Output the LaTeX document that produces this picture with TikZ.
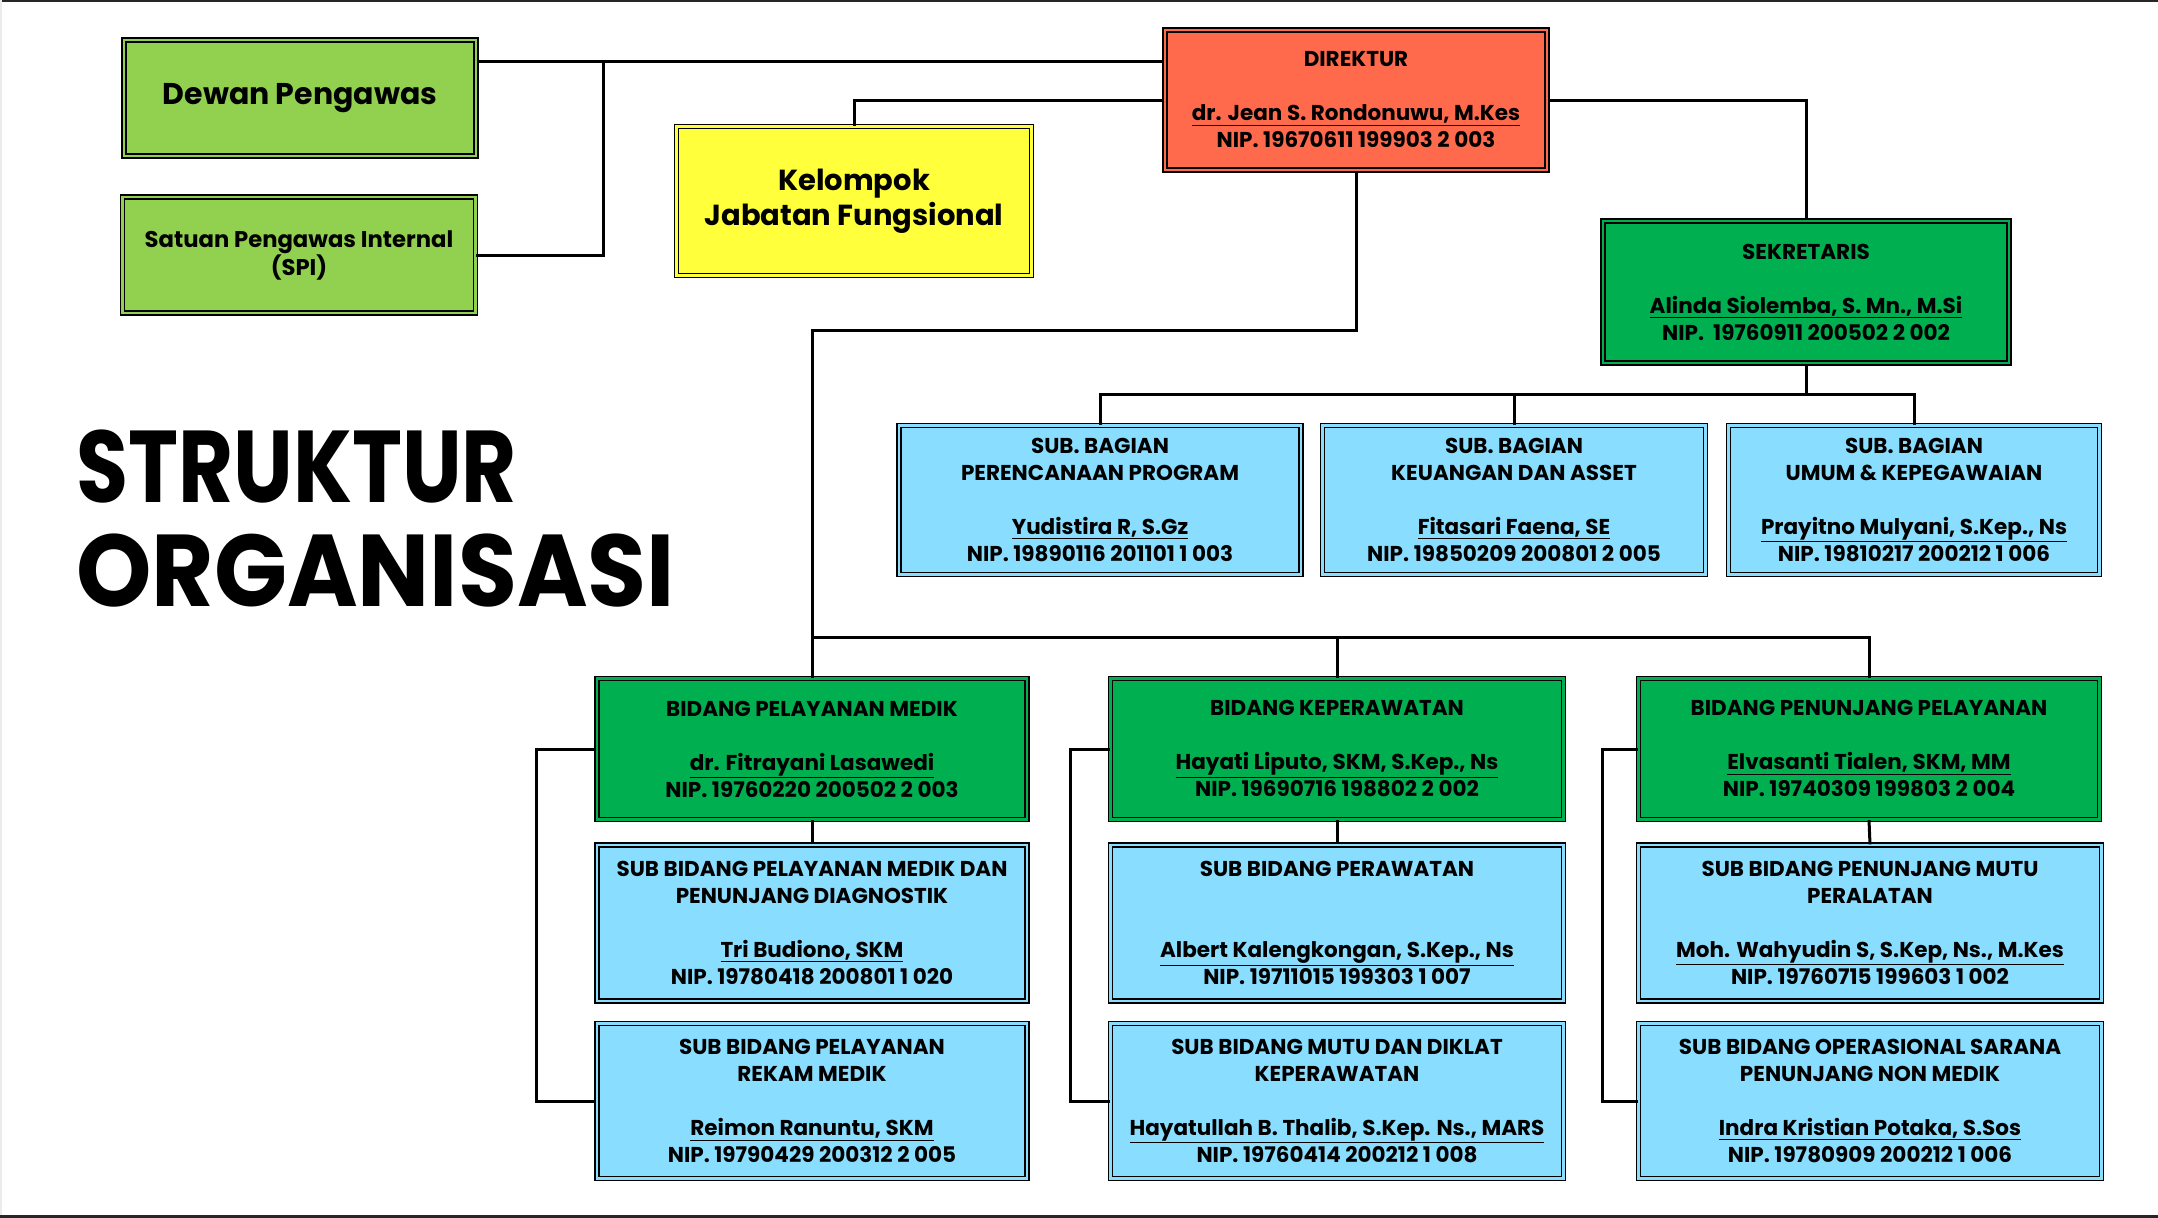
\documentclass[tikz,border=0pt]{standalone}
\usepackage{fontspec}
\setmainfont{Poppins}
\usetikzlibrary{positioning}

\definecolor{lgreen}{HTML}{92D050}
\definecolor{dgreen}{HTML}{00B050}
\definecolor{yellowbox}{HTML}{FFFF3B}
\definecolor{redbox}{HTML}{FF6A4D}
\definecolor{bluebox}{HTML}{89DEFF}

\newcommand{\boxfont}{\bfseries\fontsize{21.5}{27}\selectfont}
\newcommand{\person}[3]{#1\\~\\\underline{#2}\\#3}

\tikzset{
  unit/.style={draw=black, line width=1.4pt, double=#1, double distance=2.6pt,
    fill=#1, align=center, inner sep=0pt, font=\boxfont},
  link/.style={line width=3pt},
  headline/.style={anchor=base west, inner sep=0pt, font=\bfseries\fontsize{102}{110}\selectfont},
}

\begin{document}
\begin{tikzpicture}[x=1pt, y=-1pt]
  \useasboundingbox (0,0) rectangle (2158,1218);
  \fill[black!85] (0,0) rectangle (2158,2);
  \fill[black!85] (0,1215) rectangle (2158,1218);
  \fill[black!8] (0,0) rectangle (2,1215);

  % title
  \node (t1) [headline] at (76,502) {\scalebox{0.83}[1]{STRUKTUR}};
  \node (t2) [headline] at (76,606) {\scalebox{0.94}[1]{ORGANISASI}};

  % top level
  \node (dewan) [unit=lgreen, minimum width=352, minimum height=116, font=\bfseries\fontsize{30}{34}\selectfont] at (300,98) {Dewan Pengawas};
  \node (spi) [unit=lgreen, minimum width=353, minimum height=116, font=\bfseries\fontsize{22.7}{28}\selectfont] at (299,255) {Satuan Pengawas Internal\\(SPI)};
  \node (kelompok) [unit=yellowbox, minimum width=355, minimum height=149, font=\bfseries\fontsize{29}{35}\selectfont] at (854,201) {Kelompok\\Jabatan Fungsional};
  \node (direktur) [unit=redbox, minimum width=382, minimum height=140] at (1356,100)
    {\person{DIREKTUR}{dr. Jean S. Rondonuwu, M.Kes}{NIP. 19670611 199903 2 003}};
  \node (sekretaris) [unit=dgreen, minimum width=406, minimum height=142] at (1806,292)
    {\person{SEKRETARIS}{Alinda Siolemba, S. Mn., M.Si}{NIP.\ \ 19760911 200502 2 002}};

  % sub bagian
  \node (sb1) [unit=bluebox, minimum width=402, minimum height=149] at (1100,500)
    {SUB. BAGIAN\\\person{PERENCANAAN PROGRAM}{Yudistira R, S.Gz}{NIP. 19890116 201101 1 003}};
  \node (sb2) [unit=bluebox, minimum width=383, minimum height=149] at (1514,500)
    {SUB. BAGIAN\\\person{KEUANGAN DAN ASSET}{Fitasari Faena, SE}{NIP. 19850209 200801 2 005}};
  \node (sb3) [unit=bluebox, minimum width=371, minimum height=149] at (1914,500)
    {SUB. BAGIAN\\\person{UMUM \& KEPEGAWAIAN}{Prayitno Mulyani, S.Kep., Ns}{NIP. 19810217 200212 1 006}};

  % bidang
  \node (b1) [unit=dgreen, minimum width=430, minimum height=141] at (812,749)
    {\person{BIDANG PELAYANAN MEDIK}{dr. Fitrayani Lasawedi}{NIP. 19760220 200502 2 003}};
  \node (b2) [unit=dgreen, minimum width=453, minimum height=141] at (1337,749)
    {\person{BIDANG KEPERAWATAN}{Hayati Liputo, SKM, S.Kep., Ns}{NIP. 19690716 198802 2 002}};
  \node (b3) [unit=dgreen, minimum width=461, minimum height=141] at (1869,749)
    {\person{BIDANG PENUNJANG PELAYANAN}{Elvasanti Tialen, SKM, MM}{NIP. 19740309 199803 2 004}};

  % sub bidang
  \node (s11) [unit=bluebox, minimum width=430, minimum height=156] at (812,923)
    {SUB BIDANG PELAYANAN MEDIK DAN\\\person{PENUNJANG DIAGNOSTIK}{Tri Budiono, SKM}{NIP. 19780418 200801 1 020}};
  \node (s12) [unit=bluebox, minimum width=430, minimum height=155] at (812,1101)
    {SUB BIDANG PELAYANAN\\\person{REKAM MEDIK}{Reimon Ranuntu, SKM}{NIP. 19790429 200312 2 005}};
  \node (s21) [unit=bluebox, minimum width=453, minimum height=156] at (1337,923)
    {SUB BIDANG PERAWATAN\\\person{~}{Albert Kalengkongan, S.Kep., Ns}{NIP. 19711015 199303 1 007}};
  \node (s22) [unit=bluebox, minimum width=453, minimum height=155] at (1337,1101)
    {SUB BIDANG MUTU DAN DIKLAT\\\person{KEPERAWATAN}{Hayatullah B. Thalib, S.Kep. Ns., MARS}{NIP. 19760414 200212 1 008}};
  \node (s31) [unit=bluebox, minimum width=463, minimum height=156] at (1870,923)
    {SUB BIDANG PENUNJANG MUTU\\\person{PERALATAN}{Moh. Wahyudin S, S.Kep, Ns., M.Kes}{NIP. 19760715 199603 1 002}};
  \node (s32) [unit=bluebox, minimum width=463, minimum height=155] at (1870,1101)
    {SUB BIDANG OPERASIONAL SARANA\\\person{PENUNJANG NON MEDIK}{Indra Kristian Potaka, S.Sos}{NIP. 19780909 200212 1 006}};

  % connectors
  \coordinate (jct) at (603,61);
  \coordinate (kink) at (1356,330);
  \coordinate (bus) at (812,637);
  \coordinate (sbus) at (1100,394);

  \draw[link] (dewan.east |- jct) -- (direktur.west |- jct);
  \draw[link] (spi.east) -| (jct);
  \draw[link] (direktur.west) -| (kelompok.north);
  \draw[link] (direktur.east) -| (sekretaris.north);

  \draw[link] (direktur.south) -- (kink) -| (b1.north);
  \draw[link] (bus) -| (b3.north);
  \draw[link] (b2.north |- bus) -- (b2.north);

  \draw[link] (sekretaris.south) -- (sekretaris.south |- sbus);
  \draw[link] (sb1.north) -- (sbus) -| (sb3.north);
  \draw[link] (sb2.north |- sbus) -- (sb2.north);

  \draw[link] (b1.south) -- (s11.north);
  \draw[link] (b2.south) -- (s21.north);
  \draw[link] (b3.south) -- (s31.north);

  \draw[link] (b1.west) -- ++(-60,0) |- (s12.west);
  \draw[link] (b2.west) -- ++(-39,0) |- (s22.west);
  \draw[link] (b3.west) -- ++(-35,0) |- (s32.west);
\end{tikzpicture}
\end{document}
